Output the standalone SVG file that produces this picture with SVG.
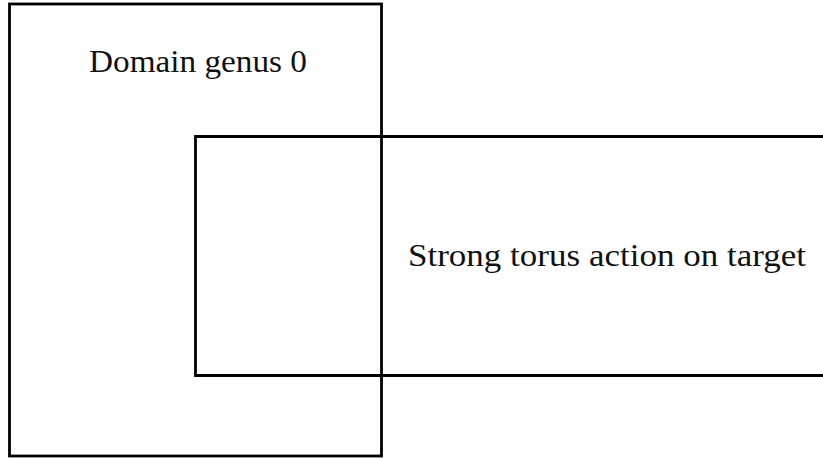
<svg xmlns="http://www.w3.org/2000/svg" width="823" height="458" viewBox="0 0 823 458">
<style>
.box{fill:none;stroke:#000;stroke-width:2.8;stroke-linecap:square}
.lbl{font-family:"Liberation Serif","Times New Roman",serif;font-size:31px;fill:#111}
</style>
<rect width="823" height="458" fill="#fff"/>
<g id="domain">
<rect class="box" x="9.5" y="4" width="372" height="452"/>
<text class="lbl" x="89" y="72" textLength="218" lengthAdjust="spacingAndGlyphs">Domain genus 0</text>
</g>
<g id="target">
<polyline class="box" points="826,136.5 195.5,136.5 195.5,375.5 826,375.5"/>
<text class="lbl" x="408" y="266" textLength="398" lengthAdjust="spacingAndGlyphs">Strong torus action on target</text>
</g>
<g id="connectors"></g>
</svg>
